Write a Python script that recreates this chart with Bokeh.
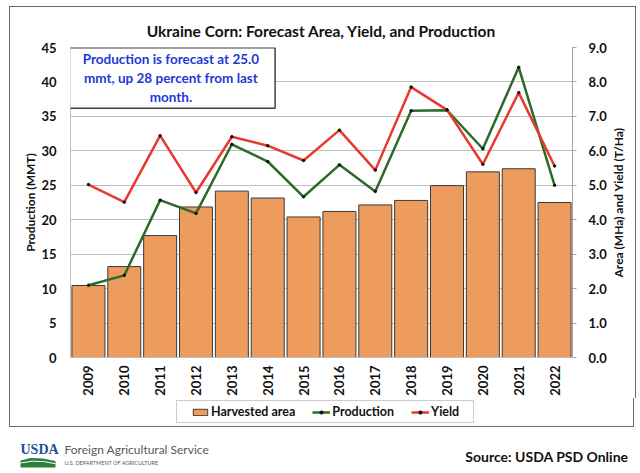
import math
from bokeh.plotting import figure
from bokeh.models import (Range1d, LinearAxis, Legend, LegendItem, Label,
                          FixedTicker, NumeralTickFormatter, FactorRange)
from bokeh.layouts import row
from bokeh.embed import file_html
from bokeh.resources import INLINE
from bokeh.core.properties import value

# ---------------- data ----------------
years = ["2009", "2010", "2011", "2012", "2013", "2014", "2015",
         "2016", "2017", "2018", "2019", "2020", "2021", "2022"]
area_mha = [2.09, 2.64, 3.54, 4.37, 4.83, 4.63, 4.08,
            4.24, 4.43, 4.56, 4.99, 5.39, 5.48, 4.50]
production_mmt = [10.49, 11.92, 22.84, 20.92, 30.95, 28.45, 23.33,
                  27.97, 24.11, 35.81, 35.89, 30.30, 42.13, 25.00]
yield_tha = [5.02, 4.51, 6.44, 4.79, 6.41, 6.15, 5.72,
             6.60, 5.44, 7.85, 7.19, 5.61, 7.69, 5.56]
left_ticks = [0, 5, 10, 15, 20, 25, 30, 35, 40, 45]
right_ticks = [0, 1, 2, 3, 4, 5, 6, 7, 8, 9]
title_text = "Ukraine Corn: Forecast Area, Yield, and Production"
note_text = "Production is forecast at 25.0\nmmt, up 28 percent from last\nmonth."
left_label = "Production (MMT)"
right_label = "Area (MHa) and Yield (T/Ha)"
series_names = ["Harvested area", "Production", "Yield"]
footer_org = "Foreign Agricultural Service"
footer_dept = "U.S. DEPARTMENT OF AGRICULTURE"
footer_source = "Source: USDA PSD Online"

FONT = "Lato"
BAR = "#EE9C5E"
BAR_LINE = "#3a3a3a"
GREEN = "#2D6A2A"
RED = "#E8392E"
GRID = "#BFBFBF"
INK = "#111111"
FRAME = "1px solid #6b6b6b"
H_TOP = 391

# ---------------- chart ----------------
p = figure(x_range=FactorRange(*years), y_range=Range1d(0, 45),
           width=571, height=H_TOP, output_backend="svg", toolbar_location=None,
           min_border_left=30, min_border_right=34, min_border_top=40,
           min_border_bottom=40)
p.extra_y_ranges = {"right": Range1d(0, 9)}
p.outline_line_color = None

p.title.text = title_text
p.title.text_font = FONT
p.title.text_font_size = "15.5px"
p.title.text_font_style = "bold"
p.title.text_color = INK
p.title.align = "center"
p.title.vertical_align = "top"
try:
    p.title.padding = (0, 1)
except Exception:
    pass

p.xgrid.visible = False
p.ygrid.ticker = FixedTicker(ticks=left_ticks)
p.ygrid.grid_line_color = GRID
p.ygrid.grid_line_width = 1

# left axis (its title is drawn in the narrow figure to its left)
ly = p.yaxis[0]
ly.ticker = FixedTicker(ticks=left_ticks)
ly.major_label_text_font = FONT
ly.major_label_text_font_size = "13px"
ly.major_label_text_font_style = "bold"
ly.major_label_text_color = INK
ly.major_label_standoff = 14
ly.major_tick_out = 0
ly.major_tick_in = 0
ly.minor_tick_out = 0
ly.minor_tick_in = 0
ly.axis_line_color = GRID

# right axis (its title is drawn in the narrow figure to its right)
ry = LinearAxis(y_range_name="right", ticker=FixedTicker(ticks=right_ticks),
                formatter=NumeralTickFormatter(format="0.0"))
ry.major_label_text_font = FONT
ry.major_label_text_font_size = "13px"
ry.major_label_text_font_style = "bold"
ry.major_label_text_color = INK
ry.major_label_standoff = 12
ry.major_tick_out = 4
ry.major_tick_in = 0
ry.minor_tick_out = 0
ry.minor_tick_in = 0
ry.axis_line_color = "#A6A6A6"
ry.major_tick_line_color = "#A6A6A6"
p.add_layout(ry, "right")

# x axis
xa = p.xaxis[0]
xa.major_label_orientation = math.pi / 2
xa.major_label_text_font = FONT
xa.major_label_text_font_size = "13px"
xa.major_label_text_font_style = "bold"
xa.major_label_text_color = INK
xa.major_label_standoff = 8
xa.major_tick_out = 0
xa.major_tick_in = 0
xa.axis_line_color = GRID

# glyphs
bars = p.vbar(x=years, top=area_mha, width=0.92, y_range_name="right",
              fill_color=BAR, line_color=BAR_LINE, line_width=1)
pl = p.line(x=years, y=production_mmt, line_color=GREEN, line_width=2.5)
ps = p.scatter(x=years, y=production_mmt, size=2.5, color=INK)
yl = p.line(x=years, y=yield_tha, line_color=RED, line_width=2.5,
            y_range_name="right")
ys = p.scatter(x=years, y=yield_tha, size=2.5, color=INK,
               y_range_name="right")

note = Label(x=2.80, y=44.95, text=note_text, anchor="top_center",
             text_align="center", text_font=FONT, text_font_style="bold",
             text_font_size="13.5px", text_color="#2438D8",
             text_line_height=1.2,
             border_line_color="#404040", border_line_width=1.5,
             background_fill_color="white", padding=(16, 3))
p.add_layout(note)


def side_title(width, xpos, text):
    s = figure(width=width, height=H_TOP, x_range=Range1d(0, width),
               y_range=Range1d(0, 1), output_backend="svg",
               toolbar_location=None, min_border=0,
               x_axis_location=None, y_axis_location=None)
    s.grid.visible = False
    s.outline_line_color = None
    s.text(x=[xpos], y=[0.5], text=[text], angle=math.pi / 2,
           text_font=value(FONT), text_font_size="12px",
           text_font_style="bold", text_color=INK,
           text_align="center", text_baseline="middle")
    return s


lab_left = side_title(28, 20, left_label)
lab_right = side_title(26, 9, right_label)

top = row(lab_left, p, lab_right, spacing=0,
          styles={"margin-left": "9px", "margin-top": "6px",
                  "border-left": FRAME, "border-right": FRAME,
                  "border-top": FRAME})

# ---------------- legend strip ----------------
lf = figure(width=625, height=29, x_range=Range1d(0, 1), y_range=Range1d(0, 1),
            output_backend="svg", toolbar_location=None, min_border=0,
            x_axis_location=None, y_axis_location=None,
            styles={"margin-left": "9px", "border-left": FRAME,
                    "border-right": FRAME, "border-bottom": FRAME})
lf.grid.visible = False
lf.outline_line_color = None
# legend proxies, placed outside the visible range of the strip
lb = lf.vbar(x=[-5], top=[-5], width=0.9, fill_color=BAR, line_color=BAR_LINE)
lpl = lf.line(x=[-6, -5], y=[-5, -5], line_color=GREEN, line_width=2.5)
lps = lf.scatter(x=[-5], y=[-5], size=2.5, color=INK)
lyl = lf.line(x=[-6, -5], y=[-5, -5], line_color=RED, line_width=2.5)
lys = lf.scatter(x=[-5], y=[-5], size=2.5, color=INK)

legend = Legend(items=[LegendItem(label=series_names[0], renderers=[lb]),
                       LegendItem(label=series_names[1], renderers=[lpl, lps]),
                       LegendItem(label=series_names[2], renderers=[lyl, lys])],
                orientation="horizontal")
legend.label_text_font = FONT
legend.label_text_font_size = "12.5px"
legend.label_text_font_style = "bold"
legend.label_text_color = INK
legend.glyph_width = 18
legend.glyph_height = 8
legend.label_standoff = 2
legend.label_height = 14
legend.spacing = 17
legend.margin = 0
legend.border_line_color = "#999999"
legend.border_line_width = 1
try:
    legend.padding = (14, 3)
    legend.location = (166, 4)
except Exception:
    legend.padding = 4
    legend.location = (178, 3)
lf.add_layout(legend)

# ---------------- footer ----------------
f = figure(width=640, height=43, x_range=Range1d(0, 640), y_range=Range1d(0, 43),
           output_backend="svg", toolbar_location=None, min_border=0,
           x_axis_location=None, y_axis_location=None)
f.grid.visible = False
f.outline_line_color = None
f.text(x=[20], y=[21], text=["USDA"], text_font=value("Liberation Serif"),
       text_font_size="14px", text_font_style="bold", text_color="#1F4E9A",
       text_baseline="middle", text_align="left")
f.patch(x=[20, 20, 30, 42, 55, 55], y=[3, 10, 12.5, 12.0, 9.5, 3],
        fill_color="#2E7D3A", line_color=None)
f.line(x=[20, 32, 44, 55], y=[7.5, 9.3, 8.8, 6.8], line_color="white",
       line_width=1)
f.text(x=[64], y=[21], text=[footer_org], text_font=value(FONT),
       text_font_size="12px", text_color="#595959",
       text_baseline="middle", text_align="left")
f.text(x=[64], y=[8], text=[footer_dept], text_font=value(FONT),
       text_font_size="5.5px", text_color="#595959",
       text_baseline="middle", text_align="left")
f.text(x=[628], y=[14], text=[footer_source], text_font=value(FONT),
       text_font_size="14px", text_font_style="bold", text_color=INK,
       text_baseline="middle", text_align="right")

open("out.html", "w").write(file_html([top, lf, f], INLINE))
